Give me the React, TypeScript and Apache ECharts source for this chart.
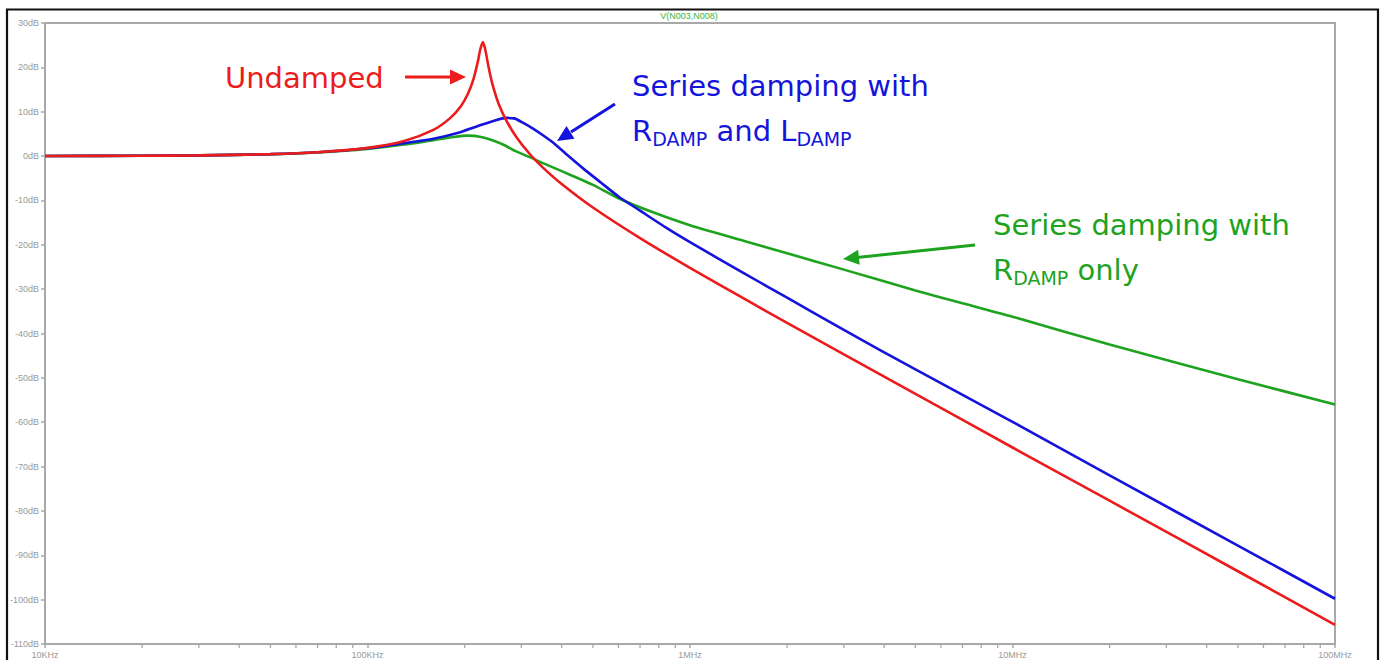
import React, { useEffect, useRef } from 'react';
import * as echarts from 'echarts';

// ---- axis ticks ----
const xTickValues = [1e4, 1e5, 1e6, 1e7, 1e8];
const xTickLabels = ['10KHz', '100KHz', '1MHz', '10MHz', '100MHz'];
const minorTickFreqs = [
  2e4, 3e4, 4e4, 5e4, 6e4, 7e4, 8e4, 9e4,
  2e5, 3e5, 4e5, 5e5, 6e5, 7e5, 8e5, 9e5,
  2e6, 3e6, 4e6, 5e6, 6e6, 7e6, 8e6, 9e6,
  2e7, 3e7, 4e7, 5e7, 6e7, 7e7, 8e7, 9e7,
];
const yMin = -110;
const yMax = 30;
const yStep = 10;
const chartTitle = 'V(N003,N008)';

// ---- Undamped (red) ----
const redFreq = [1e4, 2e4, 3e4, 5e4, 7e4, 1e5, 1.3e5, 1.6e5, 1.8e5, 1.95e5, 2.05e5, 2.13e5, 2.2e5, 2.24e5, 2.28e5, 2.32e5, 2.37e5, 2.44e5, 2.55e5, 2.7e5, 2.9e5, 3.2e5, 3.5e5, 4e5, 5e5, 7e5, 1e6, 1.5e6, 2e6, 3e6, 5e6, 1e7, 2e7, 5e7, 1e8];
const redDb = [0, 0.07, 0.15, 0.43, 0.86, 1.85, 3.4, 5.9, 8.5, 11.3, 14.1, 17.3, 21.4, 24.2, 25.7, 23.9, 20.3, 16.2, 11.8, 7.9, 4.2, 0.3, -2.6, -6.3, -11.6, -18.5, -25.2, -32.5, -37.6, -44.7, -53.6, -65.7, -77.7, -93.6, -105.7];

// ---- Series damping with R_DAMP and L_DAMP (blue) ----
const blueFreq = [1e4, 2e4, 3e4, 5e4, 7e4, 1e5, 1.3e5, 1.6e5, 1.9e5, 2.2e5, 2.5e5, 2.7e5, 2.85e5, 3e5, 3.26e5, 3.5e5, 3.8e5, 4.2e5, 4.7e5, 5.3e5, 6e5, 7e5, 8.5e5, 1e6, 1.5e6, 2e6, 3e6, 5e6, 1e7, 2e7, 5e7, 1e8];
const blueDb = [0, 0.07, 0.15, 0.43, 0.85, 1.75, 2.9, 3.9, 5.2, 6.8, 8.1, 8.6, 8.5, 7.7, 6.2, 4.7, 2.8, 0.0, -3.0, -6.0, -9.1, -12.3, -16.3, -19.4, -26.8, -31.9, -39.2, -48.1, -59.9, -72.0, -87.8, -99.8];

// ---- Series damping with R_DAMP only (green) ----
const greenFreq = [1e4, 2e4, 3e4, 5e4, 7e4, 1e5, 1.3e5, 1.6e5, 1.85e5, 2.05e5, 2.25e5, 2.45e5, 2.65e5, 2.9e5, 3.2e5, 3.5e5, 4e5, 4.5e5, 5e5, 6e5, 7.5e5, 1e6, 1.5e6, 2e6, 3e6, 5e6, 7e6, 1e7, 2e7, 5e7, 1e8];
const greenDb = [0, 0.07, 0.15, 0.42, 0.82, 1.6, 2.6, 3.6, 4.3, 4.6, 4.3, 3.5, 2.5, 1.0, -0.3, -1.6, -3.4, -5.0, -6.5, -9.5, -12.4, -15.6, -19.3, -21.9, -25.6, -30.3, -33.2, -36.2, -42.5, -50.3, -56.0];

const RED = '#ec1c1c';
const BLUE = '#1414dc';
const GREEN = '#1ea31e';
const AXIS = '#a8a8a8';
const LABEL = '#999999';
const FONT = 'DejaVu Sans';

function pairs(f: number[], d: number[]) {
  return f.map((v, i) => [v, d[i]]);
}

function fmtX(v: number) {
  for (let i = 0; i < xTickValues.length; i++) {
    if (Math.abs(Math.log10(v) - Math.log10(xTickValues[i])) < 1e-6) return xTickLabels[i];
  }
  return '';
}

export default function App() {
  const ref = useRef<HTMLDivElement>(null);
  useEffect(() => {
    document.body.style.margin = '0';
    const chart = echarts.init(ref.current as HTMLDivElement, null, { renderer: 'svg' });
    const lineSeries = (name: string, color: string, data: number[][]) => ({
      name,
      type: 'line',
      data,
      showSymbol: false,
      smooth: 0.25,
      lineStyle: { color, width: 2.6 },
      itemStyle: { color },
      z: 3,
    });
    const subRich = (color: string) => ({
      b: { fontSize: 29, fontFamily: FONT, fill: color, color, lineHeight: 34 },
      s: { fontSize: 19, fontFamily: FONT, fill: color, color, verticalAlign: 'bottom' },
    });
    const option: any = {
      animation: false,
      backgroundColor: '#ffffff',
      grid: { left: 45, right: 48, top: 23, bottom: 16, show: true, borderColor: AXIS, borderWidth: 2, containLabel: false },
      xAxis: {
        type: 'log',
        logBase: 10,
        min: xTickValues[0],
        max: xTickValues[xTickValues.length - 1],
        axisLine: { onZero: false, lineStyle: { color: AXIS, width: 2 } },
        axisTick: { show: true, length: 4, lineStyle: { color: AXIS, width: 1.5 } },
        axisLabel: { color: LABEL, fontSize: 9, fontFamily: 'Liberation Sans', margin: 6, formatter: fmtX, showMinLabel: true, showMaxLabel: true },
        splitLine: { show: false },
      },
      yAxis: {
        type: 'value',
        min: yMin,
        max: yMax,
        interval: yStep,
        axisLine: { show: true, onZero: false, lineStyle: { color: AXIS, width: 2 } },
        axisTick: { show: true, length: 4, lineStyle: { color: AXIS, width: 1.5 } },
        axisLabel: { color: LABEL, fontSize: 9, fontFamily: 'Liberation Sans', margin: 6, formatter: (v: number) => `${v}dB` },
        splitLine: { show: false },
      },
      series: [
        {
          type: 'custom',
          silent: true,
          clip: false,
          data: minorTickFreqs.map((f) => [f, yMin]),
          encode: { x: 0, y: 1 },
          renderItem: (params: any, api: any) => {
            const p = api.coord([api.value(0), api.value(1)]);
            return {
              type: 'line',
              shape: { x1: p[0], y1: p[1], x2: p[0], y2: p[1] + 4 },
              style: { stroke: AXIS, lineWidth: 1.3 },
            };
          },
          z: 1,
        },
        lineSeries('Series damping with RDAMP only', GREEN, pairs(greenFreq, greenDb)),
        lineSeries('Series damping with RDAMP and LDAMP', BLUE, pairs(blueFreq, blueDb)),
        lineSeries('Undamped', RED, pairs(redFreq, redDb)),
      ],
      graphic: [
        { type: 'rect', shape: { x: 7, y: 9.5, width: 1371, height: 700 }, style: { fill: 'none', stroke: '#111', lineWidth: 2.2 }, silent: true, z: 100 },
        { type: 'text', x: 689, y: 16, style: { text: chartTitle, fontSize: 9, fontFamily: 'Liberation Sans', fill: '#3cb43c', align: 'center', verticalAlign: 'middle' } },
        // Undamped label + arrow
        { type: 'text', x: 225, y: 78, style: { text: 'Undamped', fontSize: 29, fontFamily: FONT, fill: RED, align: 'left', verticalAlign: 'middle' } },
        { type: 'line', shape: { x1: 405, y1: 77, x2: 452, y2: 77 }, style: { stroke: RED, lineWidth: 3 } },
        { type: 'polygon', shape: { points: [[450, 69.5], [466, 77], [450, 84.5]] }, style: { fill: RED } },
        // Blue label + arrow
        { type: 'text', x: 632, y: 86, style: { text: 'Series damping with', fontSize: 29, fontFamily: FONT, fill: BLUE, align: 'left', verticalAlign: 'middle' } },
        { type: 'text', x: 632, y: 114, style: { text: '{b|R}{s|DAMP}{b| and L}{s|DAMP}', rich: subRich(BLUE), fill: BLUE, align: 'left', verticalAlign: 'top' } },
        { type: 'line', shape: { x1: 615, y1: 104, x2: 571, y2: 132 }, style: { stroke: BLUE, lineWidth: 3 } },
        { type: 'polygon', shape: { points: [[574.5, 138.7], [557, 141], [566.5, 126.1]] }, style: { fill: BLUE } },
        // Green label + arrow
        { type: 'text', x: 993, y: 225, style: { text: 'Series damping with', fontSize: 29, fontFamily: FONT, fill: GREEN, align: 'left', verticalAlign: 'middle' } },
        { type: 'text', x: 993, y: 253, style: { text: '{b|R}{s|DAMP}{b| only}', rich: subRich(GREEN), fill: GREEN, align: 'left', verticalAlign: 'top' } },
        { type: 'line', shape: { x1: 975, y1: 245, x2: 857, y2: 257.5 }, style: { stroke: GREEN, lineWidth: 3 } },
        { type: 'polygon', shape: { points: [[859.7, 264.8], [843, 259], [858.1, 249.8]] }, style: { fill: GREEN } },
      ],
    };
    chart.setOption(option);
    return () => chart.dispose();
  }, []);
  return <div ref={ref} style={{ width: 1383, height: 660 }} />;
}
